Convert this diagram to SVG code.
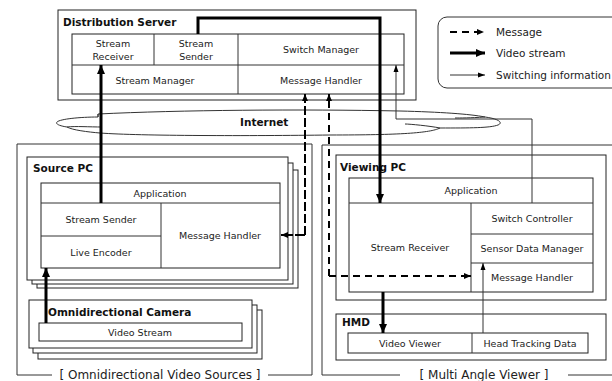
<svg xmlns="http://www.w3.org/2000/svg" width="612" height="381" viewBox="0 0 612 381">
<style>
.box{fill:#fff;stroke:#222;stroke-width:1}
.cell{fill:#fff;stroke:#222;stroke-width:1}
.t{font-family:"DejaVu Sans",Verdana,sans-serif;font-size:9.5px;fill:#222;text-anchor:middle;dominant-baseline:central}
.b{font-family:"DejaVu Sans",Verdana,sans-serif;font-size:10.5px;font-weight:bold;fill:#111;dominant-baseline:central}
.g{font-family:"DejaVu Sans",Verdana,sans-serif;font-size:12px;fill:#222;text-anchor:middle;dominant-baseline:central}
.lg{font-family:"DejaVu Sans",Verdana,sans-serif;font-size:10.5px;fill:#222;dominant-baseline:central}
.thick{fill:none;stroke:#000;stroke-width:3}
.dash{fill:none;stroke:#000;stroke-width:2;stroke-dasharray:7 5}
.thin{fill:none;stroke:#333;stroke-width:1}
</style>
<defs>
<marker id="ah" markerUnits="userSpaceOnUse" markerWidth="10" markerHeight="10" refX="9" refY="5" orient="auto"><path d="M0,1 L9,5 L0,9 Z" fill="#000"/></marker>
<marker id="ad" markerUnits="userSpaceOnUse" markerWidth="8" markerHeight="8" refX="7" refY="4" orient="auto"><path d="M0,1 L7,4 L0,7 Z" fill="#000"/></marker>
<marker id="at" markerUnits="userSpaceOnUse" markerWidth="8" markerHeight="8" refX="7" refY="4" orient="auto"><path d="M0,1.5 L7,4 L0,6.5 Z" fill="#000"/></marker>
</defs>

<!-- group boxes -->
<g id="sources-group">
<path class="thin" d="M52,375 H17 V144 H312 V375 H268"/>
<text class="g" x="160" y="375">[ Omnidirectional Video Sources ]</text>
</g>
<g id="viewer-group">
<path class="thin" d="M400,375 H322 V145 H620"/>
<path class="thin" d="M568,375 H620"/>
<text class="g" x="484" y="375">[ Multi Angle Viewer ]</text>
</g>

<!-- Distribution Server -->
<g id="distribution-server">
<rect class="box" x="58" y="10" width="358" height="90"/>
<text class="b" x="63" y="22">Distribution Server</text>
<rect class="cell" x="72" y="34" width="332" height="60"/>
<line class="thin" x1="72" y1="65" x2="404" y2="65"/>
<line class="thin" x1="154" y1="34" x2="154" y2="65"/>
<line class="thin" x1="238" y1="34" x2="238" y2="94"/>
<text class="t" x="113" y="43">Stream</text>
<text class="t" x="113" y="56">Receiver</text>
<text class="t" x="196" y="43">Stream</text>
<text class="t" x="196" y="56">Sender</text>
<text class="t" x="321" y="49">Switch Manager</text>
<text class="t" x="155" y="80">Stream Manager</text>
<text class="t" x="321" y="80">Message Handler</text>
</g>

<!-- Legend -->
<g id="legend">
<rect class="thin" x="438" y="17" width="190" height="71" rx="9" ry="9"/>
<line class="dash" x1="450" y1="32" x2="484" y2="32" stroke-dasharray="9 5" marker-end="url(#ad)"/>
<text class="lg" x="496" y="32">Message</text>
<line class="thick" x1="450" y1="53" x2="485" y2="53" marker-end="url(#ah)"/>
<text class="lg" x="496" y="53">Video stream</text>
<line class="thin" x1="450" y1="75" x2="485" y2="75" marker-end="url(#at)"/>
<text class="lg" x="496" y="75">Switching information</text>
</g>

<!-- Internet cloud -->
<g id="internet">
<path class="thin" fill="#fff" d="M98,114 C180,110 300,109 400,111 C440,112 470,114 485,117 C500,119 503,123 498,125 C490,128 470,128 440,128 C430,133 400,135 330,135 C250,136 140,136 100,133 C88,132 72,130 67,127 C60,126 55,124 57,122 C60,119 80,117 98,117 Z"/>
<path class="thin" d="M67,127 C75,126 90,127 102,127"/>
<path class="thin" d="M440,128 C430,126 410,124 405,124"/>
<path class="thin" d="M485,117 C470,118 460,118 455,118"/>
<path class="thin" d="M98,114 C98,115 98,116 98,117"/>
<text class="b" x="240" y="122">Internet</text>
</g>

<!-- Source PC stack -->
<g id="source-pc">
<rect class="box" x="37" y="170" width="261" height="118"/>
<rect class="box" x="32" y="163" width="261" height="121"/>
<rect class="box" x="27" y="157" width="261" height="123"/>
<text class="b" x="33" y="168">Source PC</text>
<rect class="cell" x="41" y="183" width="239" height="85"/>
<line class="thin" x1="41" y1="203" x2="280" y2="203"/>
<line class="thin" x1="161" y1="203" x2="161" y2="268"/>
<line class="thin" x1="41" y1="236" x2="161" y2="236"/>
<text class="t" x="160" y="193">Application</text>
<text class="t" x="101" y="219">Stream Sender</text>
<text class="t" x="101" y="252">Live Encoder</text>
<text class="t" x="220" y="235">Message Handler</text>
</g>

<!-- Omnidirectional Camera stack -->
<g id="camera">
<rect class="box" x="38" y="310" width="224" height="49"/>
<rect class="box" x="33" y="305" width="224" height="48"/>
<rect class="box" x="29" y="300" width="223" height="48"/>
<text class="b" x="48" y="312">Omnidirectional Camera</text>
<rect class="cell" x="39" y="323" width="203" height="18"/>
<text class="t" x="140" y="332">Video Stream</text>
</g>

<!-- Viewing PC -->
<g id="viewing-pc">
<rect class="box" x="336" y="155" width="270" height="145"/>
<text class="b" x="340" y="167">Viewing PC</text>
<rect class="cell" x="349" y="178" width="244" height="114"/>
<line class="thin" x1="349" y1="203" x2="593" y2="203"/>
<line class="thin" x1="471" y1="203" x2="471" y2="292"/>
<line class="thin" x1="471" y1="234" x2="593" y2="234"/>
<line class="thin" x1="471" y1="263" x2="593" y2="263"/>
<text class="t" x="471" y="190">Application</text>
<text class="t" x="410" y="247">Stream Receiver</text>
<text class="t" x="532" y="218">Switch Controller</text>
<text class="t" x="532" y="248">Sensor Data Manager</text>
<text class="t" x="532" y="277">Message Handler</text>
</g>

<!-- HMD -->
<g id="hmd">
<rect class="box" x="336" y="314" width="270" height="46"/>
<text class="b" x="342" y="322">HMD</text>
<rect class="cell" x="348" y="333" width="240" height="20"/>
<line class="thin" x1="472" y1="333" x2="472" y2="353"/>
<text class="t" x="410" y="343">Video Viewer</text>
<text class="t" x="530" y="343">Head Tracking Data</text>
</g>

<!-- Connectors -->
<g id="connectors">
<path class="thick" d="M198,34 V18 H380 V203" marker-end="url(#ah)"/>
<path class="thick" d="M101,203 V65" marker-end="url(#ah)"/>
<path class="thick" d="M46,323 V268" marker-end="url(#ah)"/>
<path class="thick" d="M383,292 V333" marker-end="url(#ah)"/>
<path class="dash" d="M305,94 V235 H281" stroke-dasharray="0 0" stroke="none"/>
<path class="dash" d="M305,235 V100"/>
<line x1="305" y1="101" x2="305" y2="94" stroke="#000" stroke-width="2" marker-end="url(#ad)"/>
<path class="dash" d="M305,235 H285"/>
<line x1="286" y1="235" x2="281" y2="235" stroke="#000" stroke-width="2" marker-end="url(#ad)"/>
<path class="dash" d="M329,276 V100"/>
<line x1="329" y1="101" x2="329" y2="94" stroke="#000" stroke-width="2" marker-end="url(#ad)"/>
<path class="dash" d="M329,276 H465"/>
<line x1="464" y1="276" x2="471" y2="276" stroke="#000" stroke-width="2" marker-end="url(#ad)"/>
<path class="thin" d="M532,203 V119 H396 V65" marker-end="url(#at)"/>
<path class="thin" d="M483,333 V263" marker-end="url(#at)"/>
</g>
</svg>
